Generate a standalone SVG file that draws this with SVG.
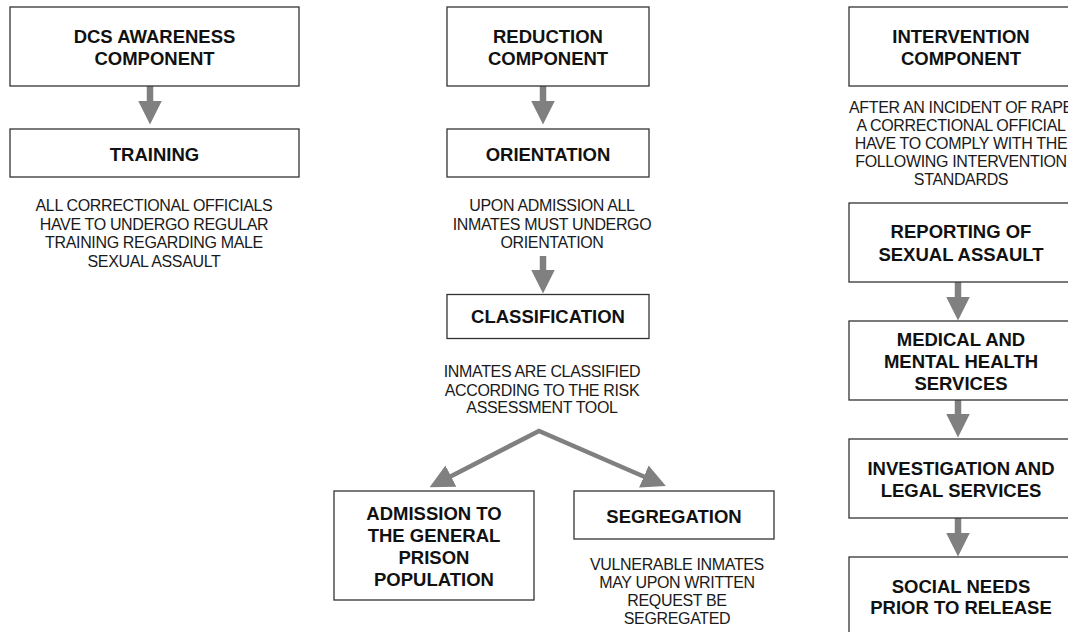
<svg xmlns="http://www.w3.org/2000/svg" width="1068" height="632" viewBox="0 0 1068 632">
<style>
.box{fill:#fff;stroke:#333;stroke-width:1.3}
.t{font-family:"Liberation Sans",Arial,sans-serif;font-weight:bold;font-size:18.5px;fill:#111;text-anchor:middle}
.c{font-family:"Liberation Sans",Arial,sans-serif;font-size:16px;letter-spacing:-0.35px;fill:#1a1a1a;text-anchor:middle}
.v{stroke:#808080;stroke-width:6.5;fill:none;marker-end:url(#ah)}
.b{stroke:#808080;stroke-width:4.5;fill:none;stroke-linejoin:miter;marker-start:url(#ah);marker-end:url(#ah)}
</style>
<defs>
<marker id="ah" markerUnits="userSpaceOnUse" markerWidth="24" markerHeight="24" viewBox="0 0 24 24" refX="0.5" refY="12" orient="auto-start-reverse">
<path d="M0,0 L24,12 L0,24 z" fill="#808080"/>
</marker>
</defs>
<rect width="1068" height="632" fill="#fff"/>

<g id="connectors">
<line class="v" x1="150" y1="86" x2="150" y2="101"/>
<line class="v" x1="543" y1="86" x2="543" y2="101"/>
<line class="v" x1="543" y1="256" x2="543" y2="270"/>
<line class="v" x1="958" y1="282" x2="958" y2="297"/>
<line class="v" x1="958" y1="400" x2="958" y2="414"/>
<line class="v" x1="958" y1="518" x2="958" y2="533"/>
<path class="b" d="M450.5,476.4 L539,431 L644.3,476.7"/>
</g>

<g id="dcs">
<rect class="box" x="10" y="7" width="289" height="79"/>
<text class="t" x="154.5" y="43">DCS AWARENESS</text>
<text class="t" x="154.5" y="65">COMPONENT</text>
</g>
<g id="training">
<rect class="box" x="10" y="129" width="289" height="48"/>
<text class="t" x="154.5" y="160.5">TRAINING</text>
</g>
<g id="training-note">
<text class="c" x="154" y="211">ALL CORRECTIONAL OFFICIALS</text>
<text class="c" x="154" y="229.5">HAVE TO UNDERGO REGULAR</text>
<text class="c" x="154" y="248">TRAINING REGARDING MALE</text>
<text class="c" x="154" y="266.5">SEXUAL ASSAULT</text>
</g>

<g id="reduction">
<rect class="box" x="447" y="7" width="202" height="79"/>
<text class="t" x="548" y="43">REDUCTION</text>
<text class="t" x="548" y="65">COMPONENT</text>
</g>
<g id="orientation">
<rect class="box" x="447" y="129" width="202" height="48"/>
<text class="t" x="548" y="160.5">ORIENTATION</text>
</g>
<g id="orientation-note">
<text class="c" x="552" y="211">UPON ADMISSION ALL</text>
<text class="c" x="552" y="229.5">INMATES MUST UNDERGO</text>
<text class="c" x="552" y="248">ORIENTATION</text>
</g>
<g id="classification">
<rect class="box" x="447" y="294.5" width="202" height="44"/>
<text class="t" x="548" y="323">CLASSIFICATION</text>
</g>
<g id="classification-note">
<text class="c" x="542" y="377">INMATES ARE CLASSIFIED</text>
<text class="c" x="542" y="395.5">ACCORDING TO THE RISK</text>
<text class="c" x="542" y="413">ASSESSMENT TOOL</text>
</g>
<g id="admission">
<rect class="box" x="334" y="491" width="200" height="109"/>
<text class="t" x="434" y="519.5">ADMISSION TO</text>
<text class="t" x="434" y="542">THE GENERAL</text>
<text class="t" x="434" y="564">PRISON</text>
<text class="t" x="434" y="586">POPULATION</text>
</g>
<g id="segregation">
<rect class="box" x="574" y="491" width="200" height="48"/>
<text class="t" x="674" y="522.5">SEGREGATION</text>
</g>
<g id="segregation-note">
<text class="c" x="677" y="569.5">VULNERABLE INMATES</text>
<text class="c" x="677" y="587.5">MAY UPON WRITTEN</text>
<text class="c" x="677" y="606">REQUEST BE</text>
<text class="c" x="677" y="624">SEGREGATED</text>
</g>

<g id="intervention">
<rect class="box" x="849" y="7" width="240" height="79"/>
<text class="t" x="961" y="43">INTERVENTION</text>
<text class="t" x="961" y="65">COMPONENT</text>
</g>
<g id="intervention-note">
<text class="c" x="961" y="112.7">AFTER AN INCIDENT OF RAPE</text>
<text class="c" x="961" y="130.5">A CORRECTIONAL OFFICIAL</text>
<text class="c" x="961" y="148.7">HAVE TO COMPLY WITH THE</text>
<text class="c" x="961" y="166.7">FOLLOWING INTERVENTION</text>
<text class="c" x="961" y="184.5">STANDARDS</text>
</g>
<g id="reporting">
<rect class="box" x="849" y="203" width="240" height="79"/>
<text class="t" x="961" y="237.5">REPORTING OF</text>
<text class="t" x="961" y="260.5">SEXUAL ASSAULT</text>
</g>
<g id="medical">
<rect class="box" x="849" y="321" width="240" height="79"/>
<text class="t" x="961" y="345.5">MEDICAL AND</text>
<text class="t" x="961" y="367.5">MENTAL HEALTH</text>
<text class="t" x="961" y="390">SERVICES</text>
</g>
<g id="investigation">
<rect class="box" x="849" y="439" width="240" height="79"/>
<text class="t" x="961" y="475">INVESTIGATION AND</text>
<text class="t" x="961" y="497">LEGAL SERVICES</text>
</g>
<g id="social">
<rect class="box" x="849" y="557" width="240" height="100"/>
<text class="t" x="961" y="593">SOCIAL NEEDS</text>
<text class="t" x="961" y="614">PRIOR TO RELEASE</text>
</g>
</svg>
